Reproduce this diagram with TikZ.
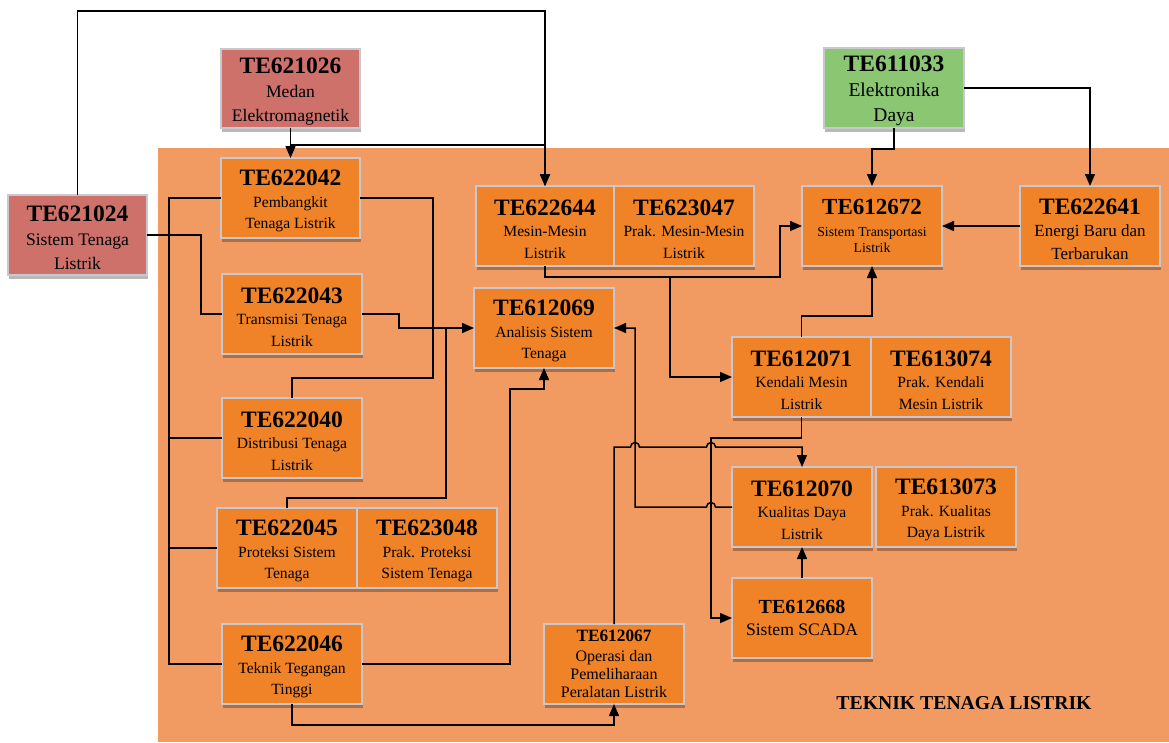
\documentclass[tikz,border=0pt]{standalone}
\usepackage{fontspec}
\setmainfont{Liberation Serif}
\usetikzlibrary{arrows.meta,calc,shadows}
\definecolor{bgor}{RGB}{241,155,99}
\definecolor{boxor}{RGB}{240,130,40}
\definecolor{redbx}{RGB}{205,113,106}
\definecolor{grnbx}{RGB}{139,198,115}
\definecolor{boxline}{RGB}{200,200,206}
\newcommand{\cd}[1]{{\fontsize{23.5}{24}\selectfont\bfseries\rule{0pt}{21.5pt}#1}}
\begin{document}
\begin{tikzpicture}[x=1pt,y=-1pt,
  bx/.style={rectangle, draw=boxline, line width=1.3pt, fill=boxor,
    minimum width=140pt, minimum height=80pt, inner sep=0pt, outer sep=0pt,
    align=center, font=\fontsize{15.6}{21.5}\selectfont,
    drop shadow={shadow xshift=1pt, shadow yshift=-3.5pt, fill=black, opacity=0.28}},
  conn/.style={line width=1.5pt, draw=black},
  arrw/.style={conn, -{Triangle[length=12pt,width=10pt]}}]
\useasboundingbox (0,0) rectangle (1169,742);
\fill[bgor] (158,148) rectangle (1169,742);

% prerequisite boxes
\node[bx, fill=redbx, minimum width=139pt, font=\fontsize{17.6}{24}\selectfont] (r24) at (77.5,235) {\cd{TE621024}\\Sistem Tenaga\\Listrik};
\node[bx, fill=redbx, minimum width=139pt, minimum height=79pt, font=\fontsize{17.6}{24}\selectfont] (r26) at (290.5,88.5) {\cd{TE621026}\\Medan\\Elektromagnetik};
\node[bx, fill=grnbx, font=\fontsize{19.5}{25}\selectfont] (g33) at (894,88) {\cd{TE611033}\\Elektronika\\Daya};

% left column
\node[bx, minimum width=139pt] (n42) at (290.5,198) {\cd{TE622042}\\Pembangkit\\Tenaga Listrik};
\node[bx] (n43) at (292,314) {\cd{TE622043}\\Transmisi Tenaga\\Listrik};
\node[bx] (n40) at (292,438) {\cd{TE622040}\\Distribusi Tenaga\\Listrik};
\node[bx] (n45) at (287,548) {\cd{TE622045}\\Proteksi Sistem\\Tenaga};
\node[bx] (n48) at (427,548) {\cd{TE623048}\\Prak. Proteksi\\Sistem Tenaga};
\node[bx] (n46) at (292,664) {\cd{TE622046}\\Teknik Tegangan\\Tinggi};

% middle
\node[bx, minimum width=138pt] (n644) at (545,226) {\cd{TE622644}\\Mesin-Mesin\\Listrik};
\node[bx] (n047) at (684,226) {\cd{TE623047}\\Prak. Mesin-Mesin\\Listrik};
\node[bx] (n069) at (544,328) {\cd{TE612069}\\Analisis Sistem\\Tenaga};
\node[bx, font=\fontsize{16}{18}\selectfont] (n067) at (614,664) {{\fontsize{17.3}{18}\selectfont\bfseries TE612067}\\[2pt]Operasi dan\\Pemeliharaan\\Peralatan Listrik};

% right
\node[bx] (n672) at (872,226) {{\fontsize{23}{24}\selectfont\bfseries TE612672}\\{\fontsize{13.8}{16}\selectfont Sistem Transportasi}\\[-5.5pt]{\fontsize{13.8}{16}\selectfont Listrik}};
\node[bx, font=\fontsize{17}{22.5}\selectfont] (n641) at (1090,226) {\cd{TE622641}\\Energi Baru dan\\Terbarukan};
\node[bx, minimum width=139pt] (n071) at (801.5,377) {\cd{TE612071}\\Kendali Mesin\\Listrik};
\node[bx] (n074) at (941,377) {\cd{TE613074}\\Prak. Kendali\\Mesin Listrik};
\node[bx] (n070) at (802,507) {\cd{TE612070}\\Kualitas Daya\\Listrik};
\node[bx] (n073) at (946,507) {\cd{TE613073}\\Prak. Kualitas\\Daya Listrik};
\node[bx, font=\fontsize{17.6}{22}\selectfont] (n668) at (802,618) {{\fontsize{20}{22}\selectfont\bfseries TE612668}\\Sistem SCADA};

\node[font=\fontsize{19.7}{22}\selectfont\bfseries] (title) at (964,703) {TEKNIK TENAGA LISTRIK};

% helper coordinates
\coordinate (top) at (300,11);
\coordinate (c145) at (400,145);
\coordinate (j433) at (433,328);
\coordinate (j446) at (446,328);
\coordinate (br644) at (670,277);
\coordinate (hA) at (635,447);
\coordinate (hB) at (711,447);
\coordinate (hC) at (711,507);

% connectors
\draw[arrw] (r24.north) |- (top) -| (n644.north);
\draw[arrw] (r26.south) -- (n42.north);
\draw[arrw] (r26.south) |- (c145) -| (n644.north);

\draw[conn] (r24.east) -| ($(n43.west)+(-21,0)$) -- (n43.west);
\draw[conn] (n42.west) -- ++(-52,0) |- (n46.west);
\draw[conn] (n40.west) -- ++(-53,0);
\draw[conn] (n45.west) -- ++(-48,0);

\draw[conn] (n42.east) -| (j433);
\draw[conn] (n40.north) |- ($(j433)+(0,50)$) -- (j433);
\draw[conn] (n45.north) |- ($(j446)+(0,170)$) -- (j446);
\draw[arrw] (n43.east) -- ++(37,0) |- (n069.west);
\draw[arrw] (n46.east) -| ($(n069.south)+(-34,21)$) -| (n069.south);
\draw[arrw] (n46.south) |- ($(n067.south)+(0,21)$) -- (n067.south);

\draw[arrw] (n644.south) |- ($(n672.west)+(-22,51)$) |- (n672.west);
\draw[arrw] (br644) |- (n071.west);
\draw[arrw] (g33.south) |- ($(n672.north)+(0,-37)$) -- (n672.north);
\draw[arrw] (g33.east) -| (n641.north);
\draw[arrw] (n641.west) -- (n672.east);
\draw[arrw] (n071.north) |- ($(n672.south)+(0,50)$) -- (n672.south);

\draw[arrw] (n071.south) |- ($(n668.west)+(-21,-180)$) |- (n668.west);
\draw[arrw] (n067.north) |- ($(hA)+(-4.5,0)$) arc[start angle=180, end angle=0, radius=4.5pt]
  -- ($(hB)+(-4.5,0)$) arc[start angle=180, end angle=0, radius=4.5pt] -| (n070.north);
\draw[arrw] (n070.west) -- ($(hC)+(4.5,0)$) arc[start angle=0, end angle=180, radius=4.5pt]
  -| ($(n069.east)+(21,0)$) -- (n069.east);
\draw[arrw] (n668.north) -- (n070.south);
\end{tikzpicture}
\end{document}
